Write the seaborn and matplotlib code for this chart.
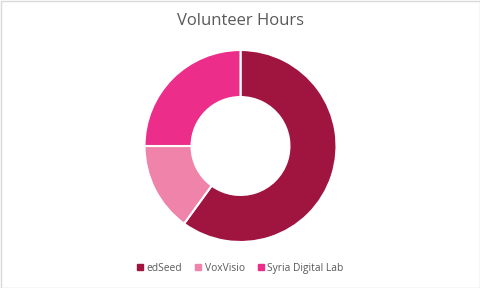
import matplotlib
matplotlib.use("Agg")
import matplotlib.pyplot as plt
import seaborn as sns
from matplotlib.lines import Line2D
from matplotlib.patches import Rectangle

sns.set_theme(style="white")
plt.rcParams['font.family'] = ['Open Sans', 'DejaVu Sans']

categories = ["edSeed", "VoxVisio", "Syria Digital Lab"]
hours = [60, 15, 25]
colors = ["#A01440", "#F083AA", "#EC2D8A"]
title = "Volunteer Hours"

W, H = 481, 288
fig = plt.figure(figsize=(W / 100, H / 100), dpi=100)
fig.patch.set_facecolor("white")
fig.add_artist(Rectangle((0.5 / W, 0.5 / H), 1 - 1.5 / W, 1 - 1.5 / H, transform=fig.transFigure,
                         fill=False, edgecolor="#D9D9D9", linewidth=1))

cx, cy, r = 240.5, 146, 96
ax = fig.add_axes([(cx - r) / W, (H - cy - r) / H, 2 * r / W, 2 * r / H])
ax.pie(hours, colors=colors, startangle=90, counterclock=False, radius=1,
       wedgeprops=dict(width=0.49, edgecolor="white", linewidth=1.5))
ax.set_xlim(-1, 1)
ax.set_ylim(-1, 1)
ax.set_aspect("equal")
ax.axis("off")

fig.text(0.5, (H - 21) / H, title, ha="center", va="center", fontsize=12, color="#595959")

handles = [Line2D([], [], marker="s", linestyle="none", markersize=4.5, markerfacecolor=c,
                  markeredgecolor=c) for c in colors]
fig.legend(handles, categories, loc="center", bbox_to_anchor=(0.5, (H - 268.5) / H), ncol=3,
           frameon=False, fontsize=7.4, labelcolor="#595959", handletextpad=0.4, columnspacing=1.3,
           handlelength=0.5)

fig.savefig("out.png", dpi=100)
